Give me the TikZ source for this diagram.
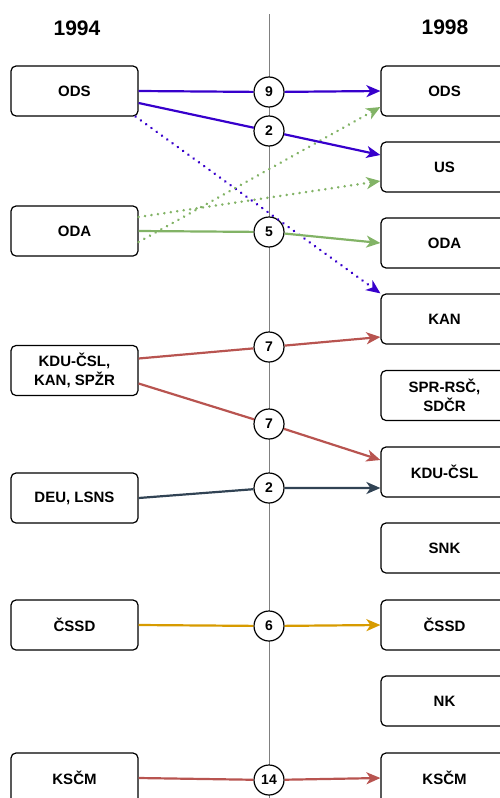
\documentclass[tikz,border=0pt]{standalone}
\usepackage{fontspec}
\setmainfont{Liberation Sans}
\usetikzlibrary{arrows.meta}
\definecolor{cblue}{HTML}{3700CC}
\definecolor{cgreen}{HTML}{82B366}
\definecolor{cred}{HTML}{B85450}
\definecolor{cdark}{HTML}{314354}
\definecolor{cyellow}{HTML}{D79B00}
\definecolor{axisgray}{HTML}{808080}
\tikzset{
 party/.style={draw=black, line width=1.2pt, rounded corners=5pt, minimum width=127pt, minimum height=50pt, inner sep=0pt, align=center, font=\fontsize{15}{19}\selectfont\bfseries, fill=white},
 seat/.style={circle, draw=black, line width=1.2pt, fill=white, minimum size=30pt, inner sep=0pt, font=\fontsize{14}{16}\selectfont\bfseries},
 yeartitle/.style={font=\fontsize{21}{24}\selectfont\bfseries},
 flow/.style={line width=2.2pt, -{Stealth[length=14pt,width=12pt,inset=4pt]}},
 dots/.style={line width=2.8pt, dash pattern=on 0.01pt off 6.5pt, line cap=round, -{Stealth[length=14pt,width=12pt,inset=4pt,line cap=butt]}}
}
\begin{document}
\begin{tikzpicture}[x=1pt,y=-1pt]
\useasboundingbox (0,0) rectangle (500,798);
\clip (0,0) rectangle (500,798);
% axis
\coordinate (axtop) at (269,14);
\coordinate (axbot) at (269,800);
\draw[axisgray, line width=1pt] (axtop) -- (axbot);
% titles
\node[yeartitle] (t94) at (77,28) {1994};
\node[yeartitle] (t98) at (445,27) {1998};
% left boxes
\node[party] (odsL) at (74.5,91) {ODS};
\node[party] (odaL) at (74.5,231) {ODA};
\node[party] (kduL) at (74.5,370.5) {KDU-ČSL,\\KAN, SPŽR};
\node[party] (deu) at (74.5,498) {DEU, LSNS};
\node[party] (cssdL) at (74.5,625) {ČSSD};
\node[party] (kscmL) at (74.5,778) {KSČM};
% right boxes
\node[party] (odsR) at (444.5,91) {ODS};
\node[party] (us) at (444.5,167) {US};
\node[party] (odaR) at (444.5,243) {ODA};
\node[party] (kan) at (444.5,319) {KAN};
\node[party] (spr) at (444.5,395.5) {SPR-RSČ,\\SDČR};
\node[party] (kduR) at (444.5,472) {KDU-ČSL};
\node[party] (snk) at (444.5,548) {SNK};
\node[party] (cssdR) at (444.5,625) {ČSSD};
\node[party] (nk) at (444.5,701) {NK};
\node[party] (kscmR) at (444.5,778) {KSČM};
% circles
\node[seat] (c9) at (269,92) {9};
\node[seat] (c2) at (269,131) {2};
\node[seat] (c5) at (269,232) {5};
\node[seat] (c7a) at (269,347) {7};
\node[seat] (c7b) at (269,424) {7};
\node[seat] (c2b) at (269,488) {2};
\node[seat] (c6) at (269,626) {6};
\node[seat] (c14) at (269,780) {14};
% dotted flows
\draw[dots, cblue] ([xshift=-3pt]odsL.south east) -- (kan.north west);
\draw[dots, cgreen] ([yshift=14pt]odaL.east) -- ([yshift=-14pt]us.west);
\draw[dots, cgreen] ([yshift=-11pt]odaL.east) -- ([yshift=-16pt]odsR.west);
% solid flows
\draw[flow, cblue] (odsL.east) -- (c9) -- (odsR.west);
\draw[flow, cblue] ([yshift=-12pt]odsL.east) -- (c2) -- ([yshift=12pt]us.west);
\draw[flow, cgreen] (odaL.east) -- (c5) -- (odaR.west);
\draw[flow, cred] ([yshift=12pt]kduL.east) -- (c7a) -- ([yshift=-18pt]kan.west);
\draw[flow, cred] ([yshift=-13pt]kduL.east) -- (c7b) -- ([yshift=12pt]kduR.west);
\draw[flow, cdark] (deu.east) -- (c2b) -- ([yshift=-16pt]kduR.west);
\draw[flow, cyellow] (cssdL.east) -- (c6) -- (cssdR.west);
\draw[flow, cred] (kscmL.east) -- (c14) -- (kscmR.west);
\end{tikzpicture}
\end{document}
